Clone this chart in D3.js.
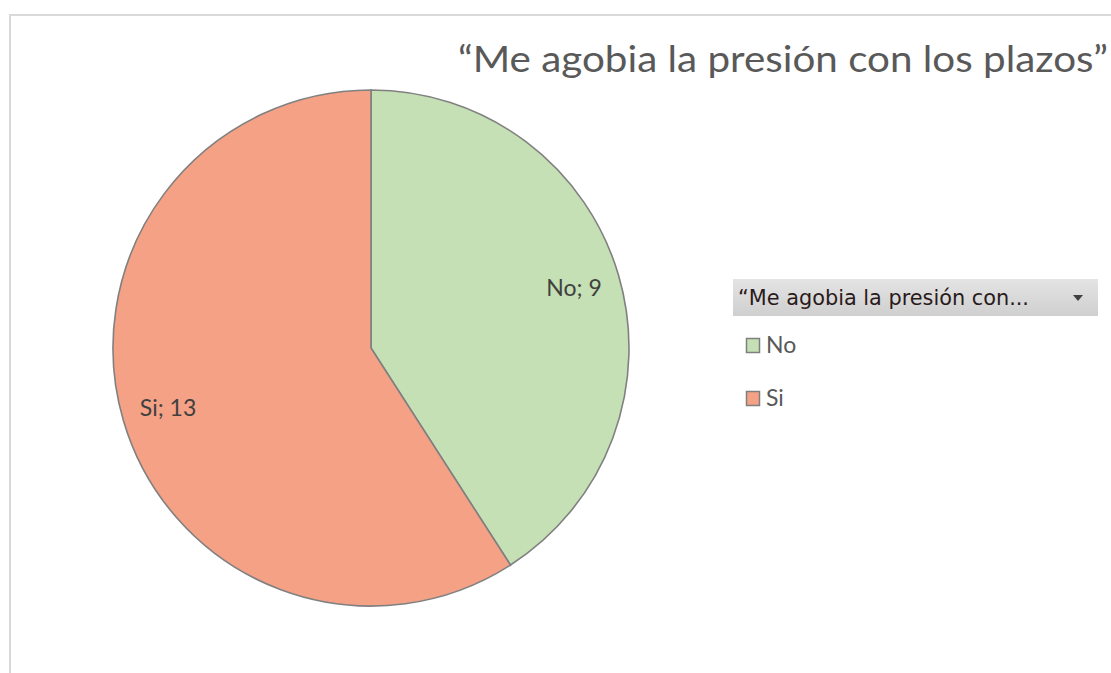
<!DOCTYPE html>
<html><head><meta charset="utf-8">
<script src="https://cdn.jsdelivr.net/npm/d3@7"></script>
<style>body{margin:0;background:#fff;}svg{display:block;}</style>
</head><body>
<script>
const title = "“Me agobia la presión con los plazos”";
const legendTitle = "“Me agobia la presión con...";
const categories = ["No", "Si"];
const values = [9, 13];
const colors = ["#c5e0b4", "#f4a186"];

const W = 1111, H = 673;
const svg = d3.select("body").append("svg").attr("width", W).attr("height", H);

// chart frame
svg.append("path").attr("d", `M10,${H} L10,15 L${W},15`).attr("fill","none")
  .attr("stroke","#d9d9d9").attr("stroke-width",2);

svg.append("text").attr("x", 1108).attr("y", 72).attr("text-anchor","end")
  .attr("font-family","Lato, 'Open Sans', sans-serif").attr("font-size",37)
  .attr("fill","#595959").attr("textLength",650).attr("lengthAdjust","spacingAndGlyphs")
  .text(title);

const cx = 371, cy = 348, r = 258;
const pie = d3.pie().sort(null).value(d => d.v);
const data = pie(categories.map((c,i)=>({c, v: values[i], col: colors[i]})));
const arc = d3.arc().innerRadius(0).outerRadius(r);
const g = svg.append("g").attr("transform", `translate(${cx},${cy})`);
g.selectAll("path").data(data).join("path").attr("d", arc)
  .attr("fill", d => d.data.col).attr("stroke","#808080").attr("stroke-width",1.6);

const labelArc = d3.arc().innerRadius(r*0.82).outerRadius(r*0.82);
g.selectAll("text.lbl").data(data).join("text").attr("class","lbl")
  .attr("transform", d => { const [x,y] = labelArc.centroid(d); return `translate(${x},${y})`; })
  .attr("text-anchor","middle").attr("dy","0.35em")
  .attr("font-family","Lato, 'Open Sans', sans-serif").attr("font-size",23).attr("fill","#404040")
  .text(d => `${d.data.c}; ${d.data.v}`);

// legend header
const defs = svg.append("defs");
const grad = defs.append("linearGradient").attr("id","hdr").attr("x1",0).attr("y1",0).attr("x2",0).attr("y2",1);
grad.append("stop").attr("offset","0%").attr("stop-color","#e4e4e4");
grad.append("stop").attr("offset","100%").attr("stop-color","#cfcfcf");
svg.append("rect").attr("x",733).attr("y",279).attr("width",365).attr("height",37).attr("fill","url(#hdr)");
svg.append("text").attr("x",738).attr("y",305)
  .attr("font-family","'DejaVu Sans Condensed','DejaVu Sans',sans-serif").attr("font-size",21)
  .attr("fill","#2a1a1a").attr("textLength",291).attr("lengthAdjust","spacingAndGlyphs")
  .text(legendTitle);
svg.append("path").attr("d","M1073,295 L1083,295 L1078,301 Z").attr("fill","#404040");

const leg = svg.append("g");
const items = leg.selectAll("g").data(categories).join("g")
  .attr("transform",(d,i)=>`translate(746,${338 + i*53})`);
items.append("rect").attr("x",0.5).attr("y",0.5).attr("width",13).attr("height",14)
  .attr("fill",(d,i)=>colors[i]).attr("stroke","#7f7f7f").attr("stroke-width",1.5);
items.append("text").attr("x",20).attr("y",15)
  .attr("font-family","Lato, 'Open Sans', sans-serif").attr("font-size",23).attr("fill","#595959")
  .text(d=>d);
</script>
</body></html>
